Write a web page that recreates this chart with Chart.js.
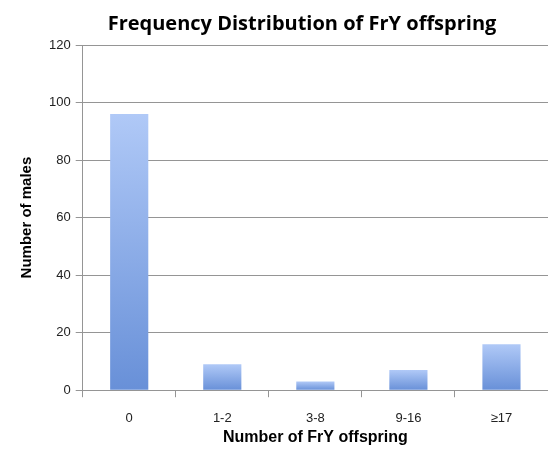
<!DOCTYPE html>
<html>
  <head>
    <title>Frequency Distribution of FrY offspring</title>
    <script src="https://cdn.jsdelivr.net/npm/chart.js"></script>
    <style>
      body { margin: 0; background: #fff; }
    </style>
  </head>
  <body>
    <canvas id="fryChart" width="548" height="450"></canvas>

    <script>
      const categories = ['0', '1-2', '3-8', '9-16', '\u226517'];
      const males = [96, 9, 3, 7, 16];
      const yTicks = [0, 20, 40, 60, 80, 100, 120];
      const chartTitle = 'Frequency Distribution of FrY offspring';

      // each bar gets its own light-to-dark vertical gradient
      function barGradient(context) {
        const chart = context.chart;
        if (!chart.chartArea || context.dataIndex === undefined) return '#86a8e8';
        const y = chart.scales.y;
        const top = y.getPixelForValue(males[context.dataIndex]);
        const bottom = y.getPixelForValue(0);
        const g = chart.ctx.createLinearGradient(0, top, 0, bottom);
        g.addColorStop(0, '#b0c9f7');
        g.addColorStop(1, '#6890d8');
        return g;
      }

      // title sits a bit right of canvas centre in the original, so draw it by hand
      const titlePlugin = {
        id: 'offsetTitle',
        afterDraw(chart) {
          const c = chart.ctx;
          c.save();
          c.font = 'bold 20px "Open Sans"';
          c.fillStyle = '#000';
          c.textAlign = 'center';
          c.textBaseline = 'alphabetic';
          c.fillText(chartTitle, 302, 30);
          c.restore();
        },
      };

      const ctx = document.getElementById('fryChart').getContext('2d');
      const chart = new Chart(ctx, {
        type: 'bar',
        data: {
          labels: categories,
          datasets: [
            {
              label: 'Number of males',
              data: males,
              backgroundColor: barGradient,
              borderWidth: 0,
              barPercentage: 0.41,
              categoryPercentage: 1,
            },
          ],
        },
        plugins: [titlePlugin],
        options: {
          responsive: false,
          animation: false,
          layout: { padding: { left: 18, right: 0, top: 45, bottom: 3 } },
          plugins: {
            legend: { display: false },
            tooltip: { enabled: false },
          },
          scales: {
            x: {
              grid: {
                offset: true,
                drawOnChartArea: false,
                drawTicks: true,
                tickLength: 7,
                color: '#959595',
              },
              border: { color: '#959595', width: 1 },
              ticks: {
                color: '#222',
                font: { family: 'Liberation Sans', size: 13 },
                padding: 13,
              },
              title: {
                display: true,
                text: 'Number of FrY offspring',
                color: '#000',
                font: { family: 'Liberation Sans', size: 16, weight: 'bold' },
                padding: { top: -11, bottom: 0 },
              },
            },
            y: {
              min: 0,
              max: 120,
              afterBuildTicks: (axis) => {
                axis.ticks = yTicks.map((v) => ({ value: v }));
              },
              grid: {
                color: '#959595',
                lineWidth: 1,
                tickLength: 7,
              },
              border: { color: '#959595', width: 1 },
              ticks: {
                color: '#222',
                font: { family: 'Liberation Sans', size: 13 },
                padding: 5,
              },
              title: {
                display: true,
                text: 'Number of males',
                color: '#000',
                font: { family: 'Liberation Sans', size: 15, weight: 'bold' },
                padding: { top: 0, bottom: 8 },
              },
            },
          },
        },
      });
    </script>
  </body>
</html>
